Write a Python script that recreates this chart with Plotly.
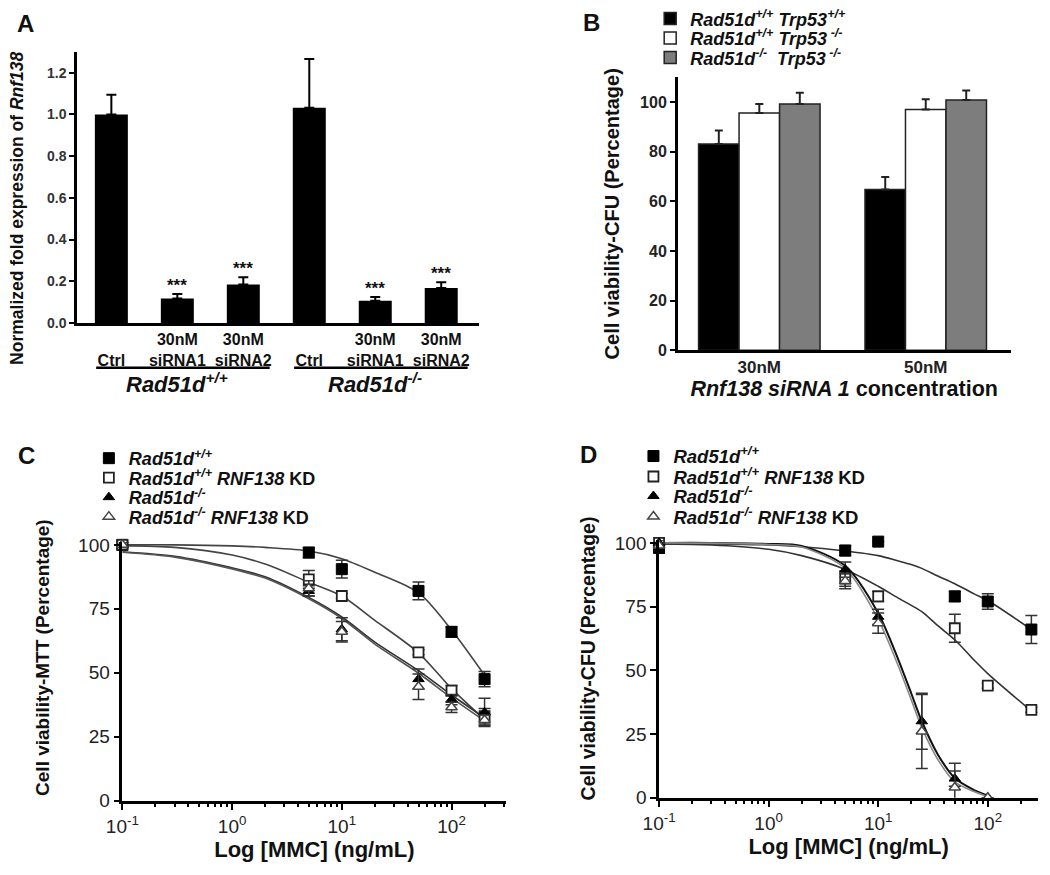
import plotly.graph_objects as go

FONT = "Liberation Sans, Arial, Helvetica, sans-serif"
INK = "#111111"

# ---------------- Panel A data ----------------
a_labels = [" <br>Ctrl", "30nM<br>siRNA1", "30nM<br>siRNA2",
            " <br>Ctrl", "30nM<br>siRNA1", "30nM<br>siRNA2"]
a_values = [1.00, 0.117, 0.184, 1.032, 0.107, 0.168]
a_errors = [0.095, 0.022, 0.035, 0.234, 0.018, 0.027]
a_signif = ["", "***", "***", "", "***", "***"]
a_groups = ["<b><i>Rad51d<sup>+/+</sup></i></b>", "<b><i>Rad51d<sup>-/-</sup></i></b>"]
a_yticks = [0.0, 0.2, 0.4, 0.6, 0.8, 1.0, 1.2]

# ---------------- Panel B data ----------------
b_labels = ["30nM", "50nM"]
b_names = ["<b><i>Rad51d<sup>+/+</sup> Trp53<sup>+/+</sup></i></b>",
           "<b><i>Rad51d<sup>+/+</sup> Trp53<sup> -/-</sup></i></b>",
           "<b><i>Rad51d<sup>-/-</sup>  Trp53<sup> -/-</sup></i></b>"]
b_black = [83.1, 64.8]
b_black_err = [5.5, 5.0]
b_white = [95.6, 97.0]
b_white_err = [3.6, 4.2]
b_gray = [99.2, 100.8]
b_gray_err = [4.6, 3.9]
b_yticks = [0, 20, 40, 60, 80, 100]

# ---------------- Panels C / D shared ----------------
cd_names = ["<b><i>Rad51d<sup>+/+</sup></i></b>",
            "<b><i>Rad51d<sup>+/+</sup> RNF138</i> KD</b>",
            "<b><i>Rad51d<sup>-/-</sup></i></b>",
            "<b><i>Rad51d<sup>-/-</sup> RNF138</i> KD</b>"]
log_tickvals = [0.1, 1, 10, 100]
log_ticktext = ["10<sup>-1</sup>", "10<sup>0</sup>", "10<sup>1</sup>", "10<sup>2</sup>"]
log_minor = [0.2, 0.3, 0.4, 0.5, 0.6, 0.7, 0.8, 0.9,
             2, 3, 4, 5, 6, 7, 8, 9,
             20, 30, 40, 50, 60, 70, 80, 90, 200, 300]
cd_yticks = [0, 25, 50, 75, 100]

# ---------------- Panel C data (MTT) ----------------
c_dose = [0.1, 5, 10, 50, 100, 200]
c_wt = [100, 97, 90.5, 82, 66, 47.5]
c_wt_err = [1, 2, 3.5, 3.5, 2, 3]
c_wtkd = [100, 86.5, 80, 58, 43, 33]
c_wtkd_err = [1, 3.5, 1, 1, 2, 3]
c_ko = [100, 82, 67, 47.5, 39.5, 34.5]
c_ko_err = [1, 2, 4.5, 4, 2, 5.5]
c_kokd = [100, 83, 66, 44.5, 36.5, 31.5]
c_kokd_err = [1, 3, 4, 5, 2, 2]
# fitted curves
c_fit_x = [0.1, 0.3, 1, 2, 5, 10, 20, 50, 100, 200]
c_fit_wt = [100, 100, 99.6, 99, 97.6, 94.6, 89.3, 81.3, 66.7, 49]
c_fit_wtkd = [99.7, 99, 96, 92.5, 85.4, 80, 70.5, 57.8, 43.8, 31.7]
c_fit_ko = [97.3, 95.5, 91, 87.5, 79.4, 71.8, 62, 50.8, 41.3, 32.4]
c_fit_kokd = [97.1, 95.2, 90.6, 87, 78.9, 71.2, 61.2, 49.8, 40.2, 31.2]

# ---------------- Panel D data (CFU) ----------------
d_dose_wt = [0.1, 5, 10, 50, 100, 250]
d_wt = [98, 97, 100.5, 79, 77, 66]
d_wt_err = [2, 2, 0, 2, 3, 5.5]
d_wtkd = [100, 86, 79, 66.5, 44, 34.5]
d_wtkd_err = [1, 3, 2, 5.5, 1, 1]
d_dose_ko = [0.1, 5, 10, 25, 50, 100]
d_ko = [100, 89.5, 71, 30, 7.5, 0]
d_ko_err = [1, 3, 3, 11, 3, 0]
d_kokd = [99, 85, 68.5, 26, 4, 0]
d_kokd_err = [1, 3, 4, 14.5, 9.5, 0]
d_fit_x = [0.1, 0.3, 1, 2, 5, 10, 15, 20, 25, 35, 50, 75, 100, 250]
d_fit_wt = [99.7, 99.6, 99.2, 98.5, 96.8, 95, 93, 91.5, 90, 87, 84, 80, 77.4, 66]
d_fit_wtkd = [99.6, 99.2, 97.5, 95, 89.6, 83, 78.5, 75.5, 73, 67.5, 62, 54, 48.7, 34]
d_fit_x_ko = [0.1, 0.3, 1, 2, 5, 10, 15, 20, 25, 35, 50, 75, 100]
d_fit_ko = [100, 100, 99.6, 98.8, 91, 72.4, 55, 41, 30, 17, 7.7, 3, 0.8]
d_fit_kokd = [100, 99.9, 99.4, 98.4, 90, 70, 52.5, 38.5, 27.5, 15, 6.2, 2.4, 0.4]

fig = go.Figure()

# ---------------- Panel A ----------------
a_pos = list(range(len(a_values)))
fig.add_trace(go.Bar(
    x=a_pos, y=a_values, width=0.5, marker=dict(color="black", line=dict(width=0)),
    error_y=dict(type="data", symmetric=False, array=a_errors,
                 arrayminus=[0] * len(a_errors), color="black", thickness=2, width=5),
    showlegend=False, xaxis="x", yaxis="y"))
for i, s in enumerate(a_signif):
    if s:
        fig.add_annotation(x=a_pos[i], y=a_values[i] + a_errors[i], xref="x", yref="y",
                           text="<b>" + s + "</b>", showarrow=False, yanchor="bottom",
                           yshift=-3, font=dict(size=17, color=INK, family=FONT))
n_per_group = len(a_values) // len(a_groups)
for g, label in enumerate(a_groups):
    start = g * n_per_group
    end = start + n_per_group - 1
    fig.add_shape(type="line", xref="x", yref="paper", x0=start - 0.23, x1=end + 0.4,
                  y0=1 - 366 / 875, y1=1 - 366 / 875, line=dict(color="black", width=2.5))
    fig.add_annotation(x=(start + end) / 2, y=1 - 382 / 875, xref="x", yref="paper",
                       text=label, showarrow=False, yanchor="middle",
                       font=dict(size=22, color=INK, family=FONT))

# ---------------- Panel B ----------------
b_pos = list(range(len(b_labels)))
b_series = [(b_black, b_black_err, "black", "legend"),
            (b_white, b_white_err, "white", "legend2"),
            (b_gray, b_gray_err, "#7d7d7d", "legend3")]
for k, (vals, errs, col, lg) in enumerate(b_series):
    fig.add_trace(go.Bar(
        x=b_pos, y=vals, name=b_names[k], offsetgroup=str(k),
        marker=dict(color=col, line=dict(color="#222222", width=1.5)),
        error_y=dict(type="data", symmetric=False, array=errs, arrayminus=[0] * len(errs),
                     color="#222222", thickness=2, width=4),
        xaxis="x2", yaxis="y2", legend=lg))

# ---------------- Panels C and D ----------------
marker_styles = [
    dict(symbol="square", size=11, color="black", line=dict(color="black", width=1)),
    dict(symbol="square", size=10, color="white", line=dict(color="#222222", width=1.8)),
    dict(symbol="triangle-up", size=10, color="black", line=dict(color="black", width=1)),
    dict(symbol="triangle-up", size=10, color="white", line=dict(color="#444444", width=1.5)),
]

def add_panel(xa, ya, doses, means, errs, fits, legends, line_styles):
    for k in range(4):
        fx, fy = fits[k]
        fig.add_trace(go.Scatter(x=fx, y=fy, mode="lines",
                                 line=dict(shape="spline", smoothing=0.8, **line_styles[k]),
                                 showlegend=False, hoverinfo="skip", xaxis=xa, yaxis=ya))
    for k in range(4):
        fig.add_trace(go.Scatter(
            x=doses[k], y=means[k], mode="markers", name=cd_names[k], marker=marker_styles[k],
            error_y=dict(type="data", array=errs[k], color="#333333", thickness=1.5, width=6),
            xaxis=xa, yaxis=ya, legend=legends[k], cliponaxis=False))

add_panel("x3", "y3",
          [c_dose, c_dose, c_dose, c_dose],
          [c_wt, c_wtkd, c_ko, c_kokd],
          [c_wt_err, c_wtkd_err, c_ko_err, c_kokd_err],
          [(c_fit_x, c_fit_wt), (c_fit_x, c_fit_wtkd), (c_fit_x, c_fit_ko), (c_fit_x, c_fit_kokd)],
          ["legend4", "legend5", "legend6", "legend7"],
          [dict(color="#444444", width=1.6), dict(color="#444444", width=1.6),
           dict(color="#333333", width=1.6), dict(color="#555555", width=1.6)])

add_panel("x4", "y4",
          [d_dose_wt, d_dose_wt, d_dose_ko, d_dose_ko],
          [d_wt, d_wtkd, d_ko, d_kokd],
          [d_wt_err, d_wtkd_err, d_ko_err, d_kokd_err],
          [(d_fit_x, d_fit_wt), (d_fit_x, d_fit_wtkd), (d_fit_x_ko, d_fit_ko), (d_fit_x_ko, d_fit_kokd)],
          ["legend8", "legend9", "legend10", "legend11"],
          [dict(color="#333333", width=1.6), dict(color="#333333", width=1.6),
           dict(color="#111111", width=2), dict(color="#888888", width=1.6)])

# ---------------- Layout ----------------
def px_x(v):
    return v / 1050

def px_y(v):
    return 1 - v / 875

axis_common = dict(showline=True, linecolor="black", linewidth=2.5, showgrid=False,
                   zeroline=False, ticks="outside", tickcolor="black", tickwidth=2, ticklen=5,
                   mirror=False)

big_tick_font = dict(family=FONT, size=19, color="#222222")

layout = dict(
    width=1050, height=875, margin=dict(l=0, r=0, t=0, b=0),
    paper_bgcolor="white", plot_bgcolor="rgba(0,0,0,0)",
    font=dict(family=FONT, color=INK),
    barmode="group", bargap=0.27, bargroupgap=0,
    xaxis=dict(axis_common, domain=[px_x(62), px_x(470)], range=[-0.52, 5.57], anchor="y",
               tickvals=a_pos, ticktext=["<b>" + t + "</b>" for t in a_labels], ticks="",
               tickfont=dict(family=FONT, size=16, color=INK), ticklabelstandoff=0),
    yaxis=dict(axis_common, domain=[px_y(320), px_y(42)], range=[0, 1.3], anchor="x",
               tickvals=a_yticks, ticktext=["<b>%.1f</b>" % v for v in a_yticks],
               tickfont=dict(family=FONT, size=14, color="#333333")),
    xaxis2=dict(axis_common, domain=[px_x(672), px_x(1010)], range=[-0.49, 1.51], anchor="y2",
                tickvals=b_pos, ticktext=["<b>" + t + "</b>" for t in b_labels], ticks="",
                tickfont=dict(family=FONT, size=17, color="#222222"), ticklabelstandoff=0,
                title=dict(text="<b><i>Rnf138 siRNA 1</i> concentration</b>",
                           font=dict(family=FONT, size=21.5, color=INK), standoff=0)),
    yaxis2=dict(axis_common, domain=[px_y(348), px_y(68)], range=[0, 110], anchor="x2",
                tickvals=b_yticks, ticktext=["<b>%d</b>" % v for v in b_yticks],
                tickfont=dict(family=FONT, size=16, color="#222222"),
                title=dict(text="<b>Cell viability-CFU (Percentage)</b>",
                           font=dict(family=FONT, size=20, color=INK), standoff=16)),
    xaxis3=dict(axis_common, type="log", domain=[px_x(108), px_x(498)], range=[-1, 2.5],
                anchor="y3", tickvals=log_tickvals, ticktext=log_ticktext, ticklen=7,
                minor=dict(tickvals=log_minor, ticks="outside", ticklen=4, tickwidth=1.5,
                           tickcolor="black"),
                tickfont=big_tick_font,
                title=dict(text="<b>Log [MMC] (ng/mL)</b>",
                           font=dict(family=FONT, size=22, color=INK), standoff=1)),
    yaxis3=dict(axis_common, domain=[px_y(810), px_y(545)], range=[0, 101], anchor="x3",
                tickvals=cd_yticks, tickfont=big_tick_font, ticklen=6),
    xaxis4=dict(axis_common, type="log", domain=[px_x(653), px_x(1038)], range=[-1, 2.46],
                anchor="y4", tickvals=log_tickvals, ticktext=log_ticktext, ticklen=7,
                minor=dict(tickvals=log_minor, ticks="outside", ticklen=4, tickwidth=1.5,
                           tickcolor="black"),
                tickfont=big_tick_font,
                title=dict(text="<b>Log [MMC] (ng/mL)</b>",
                           font=dict(family=FONT, size=22, color=INK), standoff=1)),
    yaxis4=dict(axis_common, domain=[px_y(807), px_y(543)], range=[0, 101], anchor="x4",
                tickvals=cd_yticks, tickfont=big_tick_font, ticklen=6),
)

# legends: one per entry so rows can be spaced as tightly as in the reference
# (legend left edge x, row centre y, font size) in pixels
legend_specs = {
    "legend": (644, 8, 18), "legend2": (644, 28, 18), "legend3": (644, 48, 18),
    "legend4": (74, 459, 18), "legend5": (74, 479, 18), "legend6": (74, 499, 18), "legend7": (74, 519, 18),
    "legend8": (627, 457, 18.5), "legend9": (627, 478, 18.5), "legend10": (627, 498, 18.5), "legend11": (627, 519, 18.5),
}
for key, (lx, ly, fs) in legend_specs.items():
    layout[key] = dict(x=px_x(lx), y=px_y(ly), xanchor="left", yanchor="middle",
                       bgcolor="rgba(0,0,0,0)", borderwidth=0,
                       font=dict(family=FONT, size=fs, color=INK),
                       itemclick=False, itemdoubleclick=False)

fig.update_layout(**layout)

# rotated y-axis titles placed where the reference has them
y_titles = [
    ("<b>Normalized fold expression of <i>Rnf138</i></b>", 1, 202, 17.5),
    ("<b>Cell viability-MTT (Percentage)</b>", 27, 663, 19),
    ("<b>Cell viability-CFU (Percentage)</b>", 581, 664, 19.5),
]
for text, tx, ty, fs in y_titles:
    fig.add_annotation(x=px_x(tx), y=px_y(ty), xref="paper", yref="paper", text=text,
                       textangle=-90, showarrow=False, xanchor="center", yanchor="middle",
                       font=dict(size=fs, color=INK, family=FONT))

# panel letters
for letter, (lx, ly) in {"A": (10, 13), "B": (584, 12), "C": (11, 456), "D": (581, 455)}.items():
    fig.add_annotation(x=px_x(lx), y=px_y(ly), xref="paper", yref="paper", text="<b>" + letter + "</b>",
                       showarrow=False, xanchor="center", yanchor="middle",
                       font=dict(size=24, color=INK, family=FONT))

fig.write_html("out.html", config={"displayModeBar": False},
               post_script="document.body.style.margin='0';document.body.style.overflow='hidden';")
